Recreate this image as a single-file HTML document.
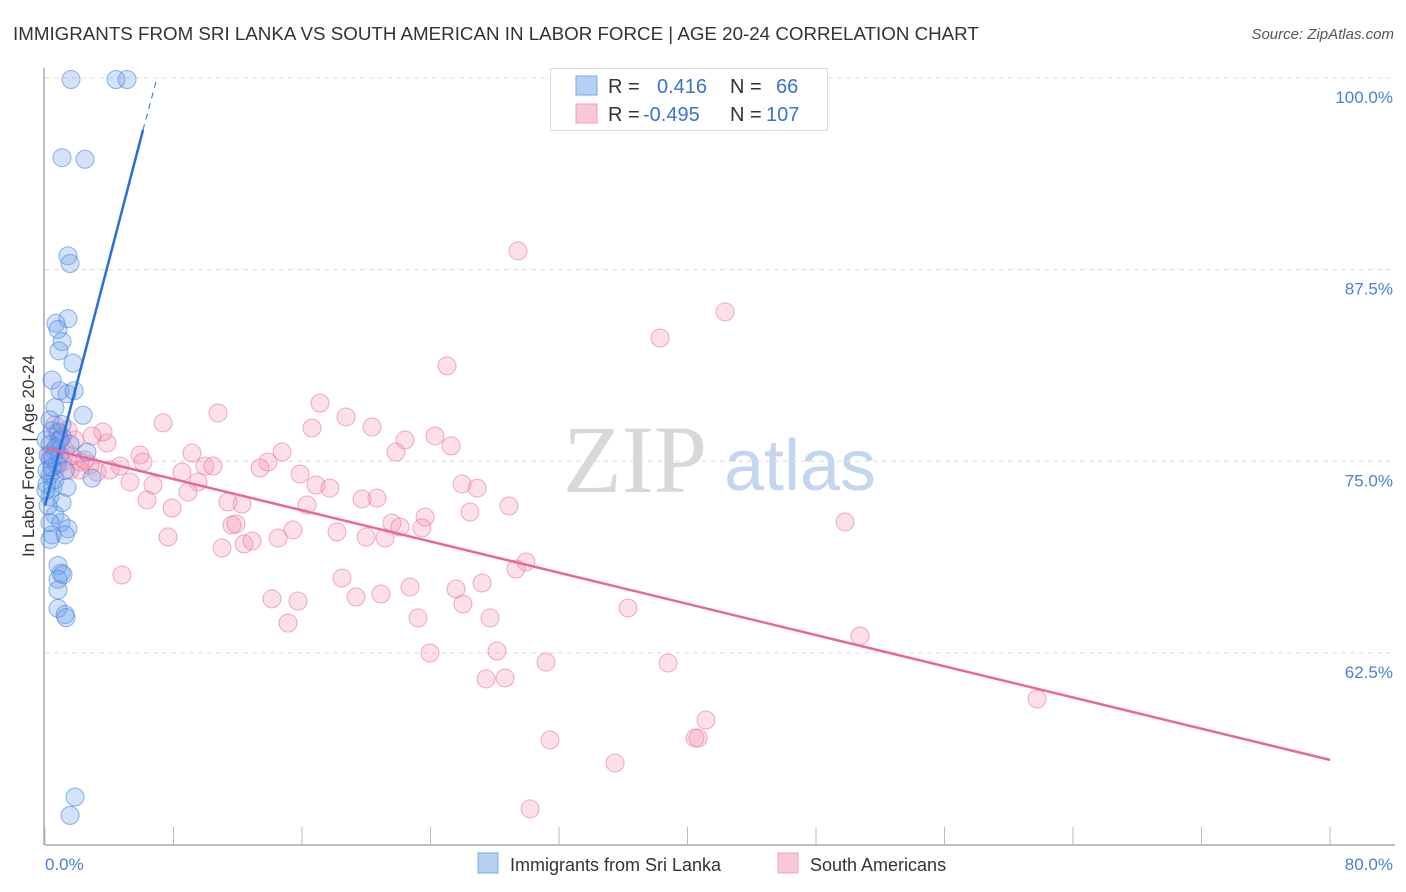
<!DOCTYPE html>
<html><head><meta charset="utf-8"><style>
body{margin:0;background:#fff;font-family:"Liberation Sans",sans-serif;}
#wrap{position:relative;width:1406px;height:892px;overflow:hidden;}
</style></head><body>
<div id="wrap">
<svg id="svg" width="1406" height="892">
<text x="13" y="40" font-size="18.75" fill="#333">IMMIGRANTS FROM SRI LANKA VS SOUTH AMERICAN IN LABOR FORCE | AGE 20-24 CORRELATION CHART</text>
<text x="1394" y="39" font-size="15" fill="#555" font-style="italic" text-anchor="end">Source: ZipAtlas.com</text>
<text x="635" y="492" font-size="96" fill="#d8d8d8" font-family="Liberation Serif,serif" text-anchor="middle">ZIP</text>
<text x="800" y="490" font-size="72" fill="#c4d6ee" text-anchor="middle">atlas</text>
<text transform="translate(34,456) rotate(-90)" font-size="17" fill="#333" text-anchor="middle">In Labor Force | Age 20-24</text>
<g id="grid"></g><g id="axes"></g><g id="pts"></g><g id="lines"></g>
<g>
<rect x="550.5" y="68.5" width="277" height="62" fill="#fff" stroke="#ddd"/>
<rect x="576" y="76" width="21" height="19" fill="#b7d1f5" stroke="#7aa6e6"/>
<rect x="576" y="104" width="21" height="19" fill="#f9c7d5" stroke="#eba0b8"/>
<text y="93" font-size="20"><tspan x="608" fill="#333">R =</tspan><tspan x="657" fill="#3a73d0">0.416</tspan><tspan x="730" fill="#333">N =</tspan><tspan x="776" fill="#3a73d0">66</tspan></text>
<text y="121" font-size="20"><tspan x="608" fill="#333">R =</tspan><tspan x="643" fill="#3a73d0">-0.495</tspan><tspan x="730" fill="#333">N =</tspan><tspan x="766" fill="#3a73d0">107</tspan></text>
</g>
<g>
<rect x="478" y="853" width="20" height="20" fill="#b7d1f5" stroke="#7aa6e6"/>
<text x="510" y="871" font-size="18" fill="#333">Immigrants from Sri Lanka</text>
<rect x="778" y="853" width="20" height="20" fill="#f9c7d5" stroke="#eba0b8"/>
<text x="810" y="871" font-size="18" fill="#333">South Americans</text>
</g>
</svg>
</div>
<script>
const blueX=[1.62,4.42,5.11,1.06,2.49,1.43,1.56,0.68,1.43,0.81,1.06,0.87,1.74,0.44,0.93,1.37,1.81,0.62,2.37,0.44,0.81,1.06,0.31,0.62,2.61,0.31,0.75,0.31,0.62,2.93,0.5,1.37,0.31,1.06,0.62,1.0,1.43,0.31,0.44,1.25,0.81,1.0,1.12,0.81,0.81,1.25,1.31,1.87,1.56,0.12,0.19,0.06,0.44,0.93,0.19,0.12,0.93,1.56,0.31,1.06,0.68,1.25,0.06,0.81,0.31,0.5];
const blueY=[99.9,99.9,99.9,94.8,94.7,88.4,87.9,84.0,84.3,83.6,82.8,82.2,81.4,80.3,79.6,79.4,79.6,78.5,78.0,77.0,76.9,76.6,76.1,75.7,75.6,75.1,74.8,74.1,73.8,73.9,73.3,73.3,72.7,72.3,71.5,71.0,70.6,71.0,70.2,70.2,68.2,67.7,67.6,67.3,65.4,65.0,64.8,53.1,51.9,74.4,75.4,76.4,74.6,75.4,72.1,73.5,76.4,76.1,77.7,77.4,75.9,74.4,73.1,66.6,69.9,75.2];
const pinkX=[29.45,42.34,38.29,25.03,10.77,17.12,18.74,20.36,7.35,22.41,24.28,25.28,21.85,16.62,14.76,13.88,13.39,9.15,5.91,6.10,4.67,3.86,3.61,2.93,2.18,1.56,3.24,5.29,6.72,8.53,9.96,10.46,9.53,15.88,16.87,17.74,8.90,6.35,7.91,11.39,12.27,16.31,19.74,20.67,25.96,26.90,28.89,26.46,23.66,21.60,22.10,23.47,11.64,11.89,15.44,18.18,19.99,21.17,7.66,11.02,12.39,12.89,14.51,49.81,29.95,29.32,18.49,22.72,25.59,27.21,19.36,20.92,14.13,15.75,26.02,23.22,27.71,15.13,36.30,50.74,23.97,28.14,31.19,38.79,27.46,28.64,61.76,41.15,40.47,40.66,31.44,35.49,30.20,4.79,0.62,0.93,1.25,1.68,2.18,0.31,0.62,1.06,2.80,4.05,1.87,1.43,2.49,0.81];
const pinkY=[88.72,84.74,83.04,81.22,78.15,78.80,77.89,77.23,77.50,76.39,76.65,76.00,75.60,77.17,75.60,74.95,74.56,75.54,75.41,74.95,74.69,76.19,76.91,76.65,74.95,74.43,74.30,73.65,73.45,74.30,74.69,74.69,73.65,74.17,73.45,73.25,72.99,72.47,71.95,72.34,72.21,72.15,72.54,72.60,73.52,73.25,72.08,71.69,71.36,70.97,70.71,70.65,70.84,70.91,70.52,70.39,70.06,69.99,70.06,69.34,69.60,69.80,69.99,71.04,68.43,67.97,67.38,66.80,66.67,67.06,66.15,66.34,66.02,65.88,65.69,64.78,64.78,64.45,65.43,63.60,62.49,62.62,61.90,61.84,60.80,60.86,59.49,58.12,56.95,56.95,56.82,55.32,52.32,67.58,77.37,76.39,75.73,75.34,74.43,75.41,74.43,74.95,74.76,74.43,76.39,77.04,75.08,76.84];
const yTicks=[100,87.5,75,62.5];
const yTickLabels=["100.0%","87.5%","75.0%","62.5%"];
const xTickVals=[0,8,16,24,32,40,48,56,64,72,80];
const blueTrend=[0,72.1,6.1,96.6,6.97,100];
const pinkTrend=[0,75.87,80,55.52];
const sx=v=>45+v/80*1285;
const sy=v=>78+(100-v)*15.33;
const NS="http://www.w3.org/2000/svg";
function mk(tag,parent,attrs){const e=document.createElementNS(NS,tag);for(const k in attrs)e.setAttribute(k,attrs[k]);document.getElementById(parent).appendChild(e);return e;}
yTicks.forEach((t,i)=>{
  const l=mk('line','grid',{x1:45,x2:1395,y1:sy(t),y2:sy(t),stroke:'#ddd','stroke-dasharray':'5,4'});
  
  
  const tx=mk('text','grid',{x:1393,y:sy(t)+25,'font-size':17,fill:'#4a7fd8','text-anchor':'end'});
  tx.textContent=yTickLabels[i];
  
  
});
const ax=mk('line','axes',{x1:45,x2:1395,y1:845,y2:845,stroke:'#aaa','stroke-width':1.5});


const ay=mk('line','axes',{x1:44,x2:44,y1:68,y2:845,stroke:'#aaa','stroke-width':1.5});


xTickVals.forEach(v=>{
  const t=mk('line','axes',{x1:sx(v),x2:sx(v),y1:827,y2:845,stroke:'#bbb'});
  
  
});
const xl0=mk('text','axes',{x:45,y:870,'font-size':17,fill:'#4a7fd8'});xl0.textContent='0.0%';


const xl1=mk('text','axes',{x:1393,y:870,'font-size':17,fill:'#4a7fd8','text-anchor':'end'});xl1.textContent='80.0%';


pinkX.forEach((x,i)=>{
  const c=mk('circle','pts',{cx:sx(x),cy:sy(pinkY[i]),r:9,fill:'rgba(244,150,180,0.3)',stroke:'rgba(230,120,160,0.6)'});
  
  
});
blueX.forEach((x,i)=>{
  const c=mk('circle','pts',{cx:sx(x),cy:sy(blueY[i]),r:9,fill:'rgba(110,160,235,0.3)',stroke:'rgba(70,130,220,0.6)'});
  
  
});
const bl=mk('line','lines',{x1:sx(blueTrend[0]),y1:sy(blueTrend[1]),x2:sx(blueTrend[2]),y2:sy(blueTrend[3]),stroke:'#2a6fd6','stroke-width':2.5});


const bd=mk('line','lines',{x1:sx(blueTrend[2]),y1:sy(blueTrend[3]),x2:sx(blueTrend[4]),y2:sy(blueTrend[5]),stroke:'#2a6fd6','stroke-width':1,'stroke-dasharray':'6,5'});


const pl=mk('line','lines',{x1:sx(pinkTrend[0]),y1:sy(pinkTrend[1]),x2:sx(pinkTrend[2]),y2:sy(pinkTrend[3]),stroke:'#e8679a','stroke-width':2.5});


</script>
</body></html>
